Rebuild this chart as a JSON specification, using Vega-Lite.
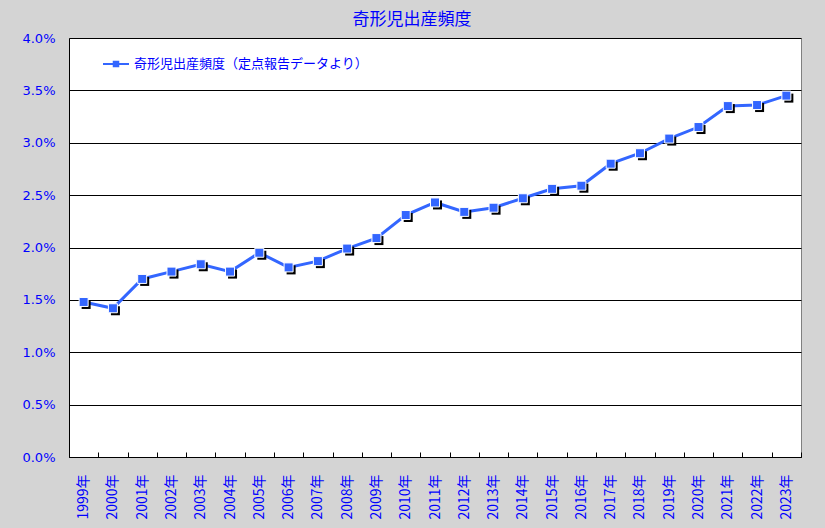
{
  "$schema": "https://vega.github.io/schema/vega-lite/v6.json",
  "width": 732,
  "height": 419,
  "autosize": {"type": "none"},
  "padding": {"left": 69, "top": 38, "right": 24, "bottom": 71},
  "background": "#d4d4d4",
  "title": {"text": "奇形児出産頻度", "font": "Noto Sans CJK JP", "fontSize": 17, "fontWeight": "normal", "color": "#0000ff", "dx": -23, "offset": 3},
  "config": {
    "view": {"fill": "white", "stroke": "#808080", "strokeWidth": 1}
  },
  "data": {"values": [
    {"year": "1999年", "rate": 0.0148},
    {"year": "2000年", "rate": 0.0142},
    {"year": "2001年", "rate": 0.0170},
    {"year": "2002年", "rate": 0.0177},
    {"year": "2003年", "rate": 0.0184},
    {"year": "2004年", "rate": 0.0177},
    {"year": "2005年", "rate": 0.0195},
    {"year": "2006年", "rate": 0.0181},
    {"year": "2007年", "rate": 0.0187},
    {"year": "2008年", "rate": 0.0199},
    {"year": "2009年", "rate": 0.0209},
    {"year": "2010年", "rate": 0.0231},
    {"year": "2011年", "rate": 0.0243},
    {"year": "2012年", "rate": 0.0234},
    {"year": "2013年", "rate": 0.0238},
    {"year": "2014年", "rate": 0.0247},
    {"year": "2015年", "rate": 0.0256},
    {"year": "2016年", "rate": 0.0259},
    {"year": "2017年", "rate": 0.0280},
    {"year": "2018年", "rate": 0.0290},
    {"year": "2019年", "rate": 0.0304},
    {"year": "2020年", "rate": 0.0315},
    {"year": "2021年", "rate": 0.0335},
    {"year": "2022年", "rate": 0.0336},
    {"year": "2023年", "rate": 0.0345}
  ]},
  "encoding": {
    "x": {
      "field": "year", "type": "ordinal", "sort": null, "bandPosition": 0.5,
      "scale": {"type": "band", "paddingInner": 0, "paddingOuter": 0},
      "axis": {"title": null, "labelAngle": 270, "labelAlign": "right", "labelBaseline": "middle", "tickBand": "extent", "tickSize": -5, "tickColor": "black", "domainColor": "black", "grid": false, "labelFont": "Noto Sans CJK JP", "labelFontSize": 14, "labelColor": "#0000ff", "labelPadding": 22}
    },
    "y": {
      "field": "rate", "type": "quantitative",
      "scale": {"domain": [0, 0.04]},
      "axis": {"title": null, "format": ".1%", "values": [0, 0.005, 0.01, 0.015, 0.02, 0.025, 0.03, 0.035, 0.04], "ticks": false, "grid": true, "gridColor": "black", "gridOpacity": 1, "domainColor": "black", "labelFont": "DejaVu Sans", "labelFontSize": 13, "labelColor": "#0000ff", "labelPadding": 14}
    }
  },
  "layer": [
    {"mark": {"type": "line", "color": "#3366ff", "strokeWidth": 3}},
    {"mark": {"type": "point", "shape": "square", "filled": true, "color": "black", "size": 81, "opacity": 1, "xOffset": 2.5, "yOffset": 2.5}},
    {
      "mark": {"type": "point", "shape": "square", "filled": true, "size": 81, "stroke": "white", "strokeWidth": 1, "opacity": 1},
      "encoding": {
        "color": {
          "datum": "奇形児出産頻度（定点報告データより）",
          "scale": {"range": ["#3366ff"]},
          "legend": {"orient": "none", "legendX": 34, "legendY": 13, "title": null, "symbolType": "M-1,-0.08H1V0.08H-1Z M-0.25,-0.25H0.25V0.25H-0.25Z", "symbolSize": 676, "symbolStrokeWidth": 0, "labelFont": "Noto Sans CJK JP", "labelFontSize": 13, "labelColor": "#0000ff", "labelOffset": 5, "labelLimit": 0, "padding": 0}
        }
      }
    }
  ]
}
